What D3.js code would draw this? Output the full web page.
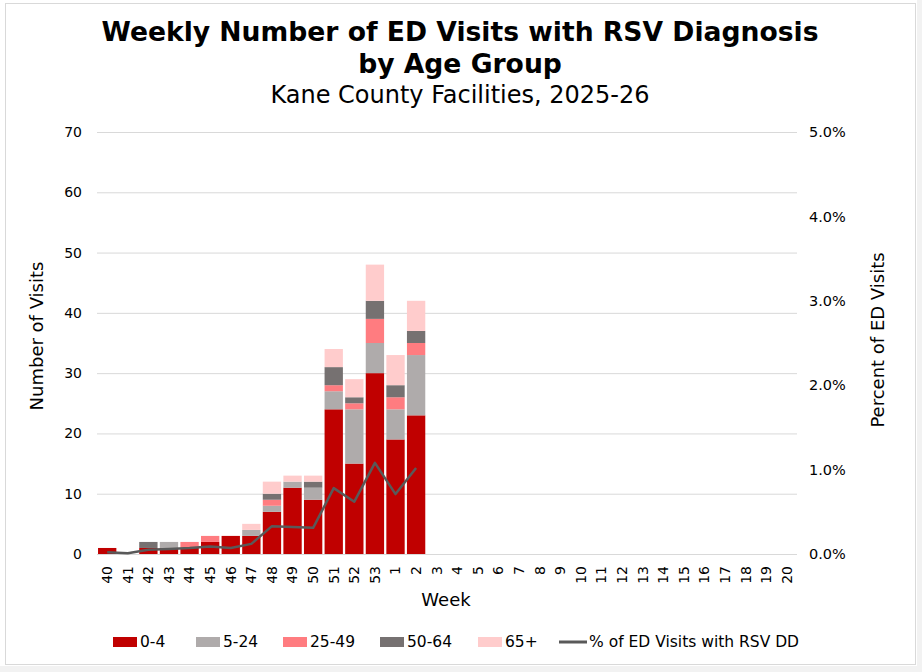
<!DOCTYPE html>
<html>
<head>
<meta charset="utf-8">
<script src="https://cdn.jsdelivr.net/npm/d3@7"></script>
<style>
  body { margin: 0; background: #fff; }
  text { font-family: "DejaVu Sans", Verdana, sans-serif; }
</style>
</head>
<body>
<div id="chart"></div>
<script>
// weeks of the season
const weeks = ["40","41","42","43","44","45","46","47","48","49","50","51","52","53",
  "1","2","3","4","5","6","7","8","9","10","11","12","13","14","15","16","17","18","19","20"];

// visits per age group (weeks with data only)
const age0to4   = [1,0,1,1,1,2,3,3,7,11,9,24,15,30,19,23];
const age5to24  = [0,0,0,1,0,0,0,1,1,1,2,3,9,5,5,10];
const age25to49 = [0,0,0,0,1,1,0,0,1,0,0,1,1,4,2,2];
const age50to64 = [0,0,1,0,0,0,0,0,1,0,1,3,1,3,2,2];
const age65plus = [0,0,0,0,0,0,0,1,2,1,1,3,3,6,5,5];

// percent of ED visits with RSV diagnosis
const pctRsv = [0.02,0.01,0.05,0.06,0.07,0.09,0.07,0.12,0.33,0.32,0.31,0.78,0.62,1.08,0.71,1.02];

const groups = ["0-4","5-24","25-49","50-64","65+"];
const groupColors = ["#C00000","#AFABAB","#FF7C80","#767171","#FFCCCC"];
const leftTicks = [0,10,20,30,40,50,60,70];
const rightTicks = [0,1,2,3,4,5];

const width = 922, height = 672;
const margin = {left: 97, right: 125, top: 132, bottom: 118};

const svg = d3.select("#chart").append("svg")
  .attr("width", width)
  .attr("height", height);

// light strips outside the chart frame
svg.append("rect")
  .attr("x", 917).attr("y", 0).attr("width", 5).attr("height", height)
  .attr("fill", "#f2f2f2");
svg.append("rect")
  .attr("x", 0).attr("y", 666).attr("width", width).attr("height", 6)
  .attr("fill", "#f2f2f2");

svg.append("rect")
  .attr("x", 5.5).attr("y", 3.5)
  .attr("width", 910).attr("height", 661)
  .attr("fill", "#fff")
  .attr("stroke", "#d9d9d9");

let x = d3.scaleBand()
  .domain(weeks)
  .range([margin.left, width - margin.right])
  .paddingInner(0.11)
  .paddingOuter(0.05);

let y = d3.scaleLinear().domain([0, 70]).range([height - margin.bottom, margin.top]);
let y2 = d3.scaleLinear().domain([0, 5]).range([height - margin.bottom, margin.top]);

// grid
svg.append("g")
  .selectAll("line")
  .data(leftTicks)
  .enter()
  .append("line")
  .attr("x1", margin.left)
  .attr("x2", width - margin.right)
  .attr("y1", d => y(d) + 0.5)
  .attr("y2", d => y(d) + 0.5)
  .style("stroke", "#d9d9d9")
  .style("stroke-width", 1);

// stacked data
let rows = age0to4.map((v, i) => ({
  week: weeks[i],
  "0-4": v,
  "5-24": age5to24[i],
  "25-49": age25to49[i],
  "50-64": age50to64[i],
  "65+": age65plus[i]
}));
let stacked = d3.stack().keys(groups)(rows);
let color = d3.scaleOrdinal().domain(groups).range(groupColors);

svg.append("g")
  .selectAll("g")
  .data(stacked)
  .enter()
  .append("g")
  .attr("fill", d => color(d.key))
  .selectAll("rect")
  .data(d => d)
  .enter()
  .append("rect")
  .attr("x", d => x(d.data.week))
  .attr("width", x.bandwidth())
  .attr("y", d => y(d[1]))
  .attr("height", d => y(d[0]) - y(d[1]));

// percent line
let line = d3.line()
  .x((d, i) => x(weeks[i]) + x.bandwidth() / 2)
  .y(d => y2(d));

svg.append("path")
  .datum(pctRsv)
  .attr("d", line)
  .attr("fill", "none")
  .attr("stroke", "#595959")
  .attr("stroke-width", 2.5)
  .attr("stroke-linejoin", "round");

// left axis
let leftAxis = d3.axisLeft(y).tickValues(leftTicks).tickSize(0).tickPadding(15);
let gl = svg.append("g")
  .attr("transform", `translate(${margin.left},0)`)
  .call(leftAxis);
gl.select(".domain").remove();
gl.selectAll("text")
  .style("font-size", "14px")
  .style("fill", "#000")
  .style("font-family", "DejaVu Sans, Verdana, sans-serif");

// right axis
let rightAxis = d3.axisRight(y2).tickValues(rightTicks).tickSize(0).tickPadding(12)
  .tickFormat(d => d.toFixed(1) + "%");
let gr = svg.append("g")
  .attr("transform", `translate(${width - margin.right},0)`)
  .call(rightAxis);
gr.select(".domain").remove();
gr.selectAll("text")
  .style("font-size", "14.5px")
  .style("fill", "#000")
  .style("font-family", "DejaVu Sans, Verdana, sans-serif");

// bottom axis
let bottomAxis = d3.axisBottom(x).tickSize(0).tickPadding(6);
let gb = svg.append("g")
  .attr("transform", `translate(0,${height - margin.bottom})`)
  .call(bottomAxis);
gb.select(".domain").remove();
gb.selectAll("text")
  .attr("transform", "rotate(-90)")
  .attr("x", -12)
  .attr("y", 0)
  .attr("dy", "0.35em")
  .style("text-anchor", "end")
  .style("font-size", "14px")
  .style("fill", "#000")
  .style("font-family", "DejaVu Sans, Verdana, sans-serif");

// titles
svg.append("text")
  .attr("x", 460).attr("y", 41)
  .attr("text-anchor", "middle")
  .style("font-size", "26.6px").style("font-weight", "bold")
  .text("Weekly Number of ED Visits with RSV Diagnosis");
svg.append("text")
  .attr("x", 460).attr("y", 73)
  .attr("text-anchor", "middle")
  .style("font-size", "26.6px").style("font-weight", "bold")
  .text("by Age Group");
svg.append("text")
  .attr("x", 460).attr("y", 103)
  .attr("text-anchor", "middle")
  .style("font-size", "24px")
  .text("Kane County Facilities, 2025-26");

svg.append("text")
  .attr("transform", "translate(43,336) rotate(-90)")
  .attr("text-anchor", "middle")
  .style("font-size", "18px")
  .text("Number of Visits");
svg.append("text")
  .attr("transform", "translate(884,340) rotate(-90)")
  .attr("text-anchor", "middle")
  .style("font-size", "18px")
  .text("Percent of ED Visits");
svg.append("text")
  .attr("x", 446).attr("y", 606)
  .attr("text-anchor", "middle")
  .style("font-size", "18px")
  .text("Week");

// legend
let legendItems = groups.map((g, i) => ({name: g, color: groupColors[i], type: "rect"}));
legendItems.push({name: "% of ED Visits with RSV DD", color: "#595959", type: "line"});
let legendX = [113, 196, 283, 380, 478, 559];

let legend = svg.append("g")
  .selectAll("g")
  .data(legendItems)
  .enter()
  .append("g")
  .attr("transform", (d, i) => `translate(${legendX[i]},642)`);

legend.filter(d => d.type === "rect")
  .append("rect")
  .attr("x", 0).attr("y", -5)
  .attr("width", 24).attr("height", 10)
  .attr("fill", d => d.color);
legend.filter(d => d.type === "line")
  .append("line")
  .attr("x1", 0).attr("x2", 28)
  .attr("y1", 0).attr("y2", 0)
  .attr("stroke", d => d.color)
  .attr("stroke-width", 3);
legend.append("text")
  .attr("x", d => d.type === "line" ? 30 : 27)
  .attr("y", 0)
  .attr("dy", "0.35em")
  .style("font-size", "15.5px")
  .text(d => d.name);
</script>
</body>
</html>
